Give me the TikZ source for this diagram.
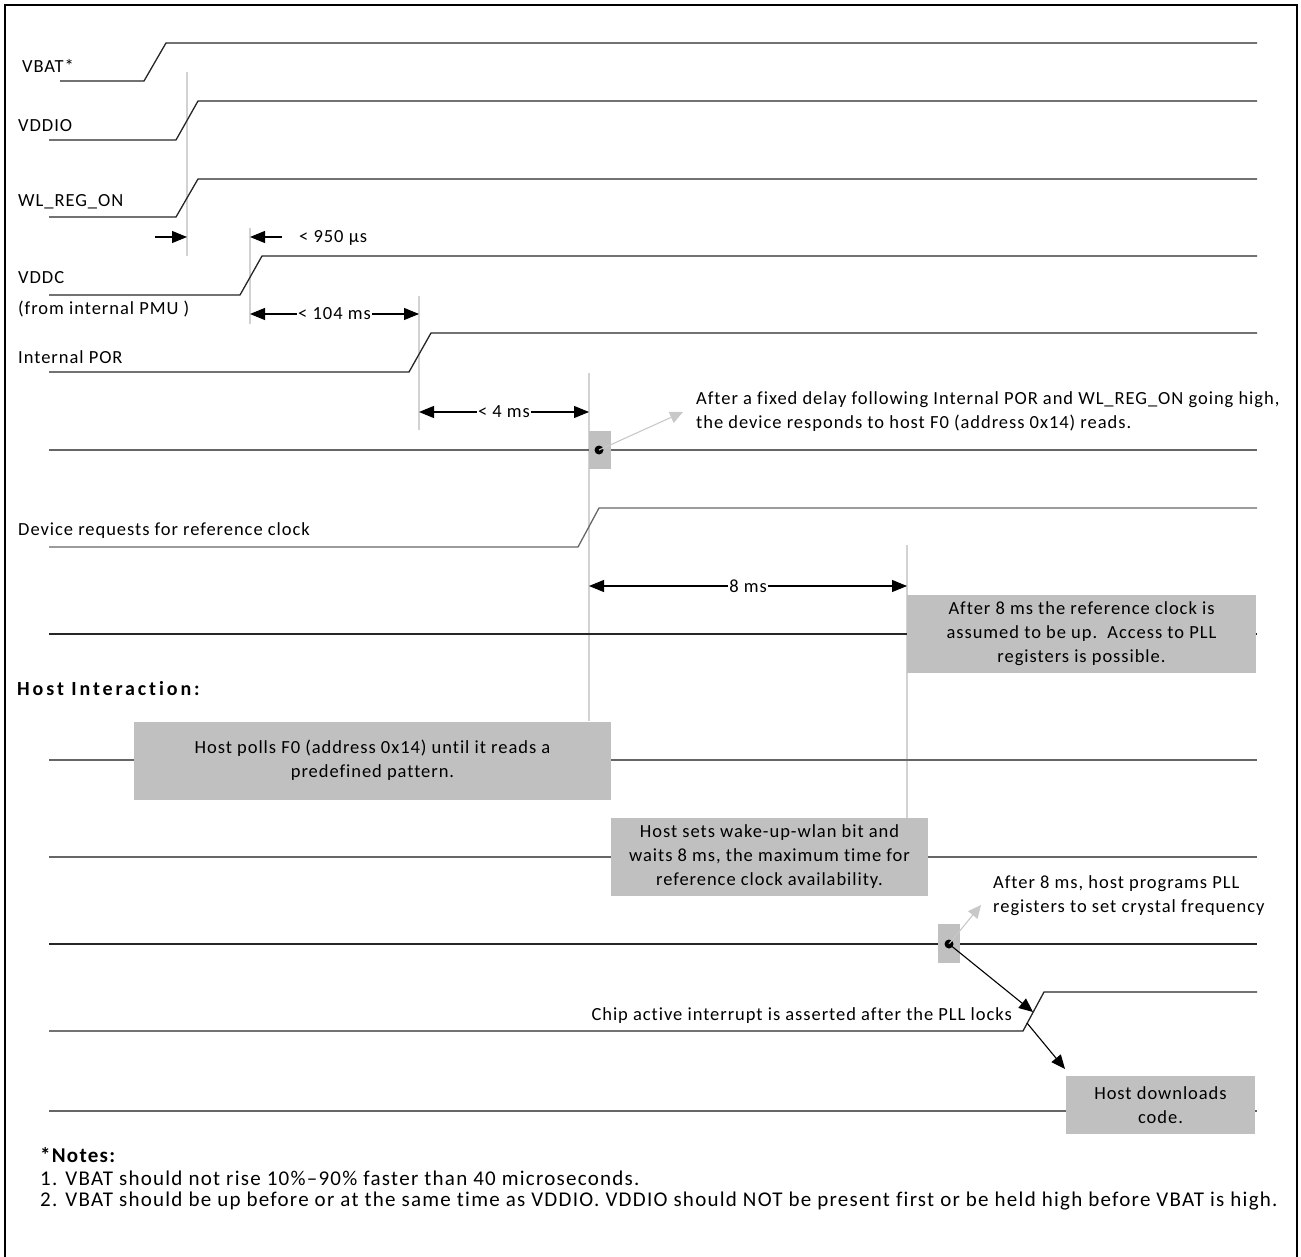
\documentclass[tikz,border=0pt]{standalone}
\usepackage{fontspec}
\setmainfont{Carlito}[Ligatures=CommonOff]
\newfontfamily\lblfont{Carlito}[LetterSpace=5.2, Ligatures=CommonOff]
\newfontfamily\headfont{Carlito}[LetterSpace=14.5, Ligatures=CommonOff]
\newfontfamily\notefont{Carlito}[LetterSpace=6, Ligatures=CommonOff]
\usetikzlibrary{arrows.meta}
\definecolor{boxgray}{RGB}{192,192,192}
\definecolor{guidegray}{RGB}{210,210,210}
\definecolor{callgray}{RGB}{200,200,200}
\newcommand{\txt}{\lblfont\fontsize{18.5}{24}\selectfont}
\newcommand{\headtxt}{\headfont\bfseries\fontsize{20}{24}\selectfont}
\newcommand{\notetxt}{\notefont\fontsize{21}{24}\selectfont}
\tikzset{
  sig/.style={line width=1.3pt, draw=black!85},
  flat/.style={line width=1.3pt, draw=black!60},
  guide/.style={line width=1.5pt, draw=guidegray},
  dimarrow/.style={line width=1.1pt, -{Triangle[length=15pt,width=12pt]}},
  dimboth/.style={line width=1.1pt, {Triangle[length=15pt,width=12pt]}-{Triangle[length=15pt,width=12pt]}},
  callout/.style={line width=1.1pt, draw=callgray, -{Triangle[length=13pt,width=12pt]}, callgray},
  blackarrow/.style={line width=1.1pt, -{Triangle[length=14pt,width=12pt]}},
  lbl/.style={inner sep=0pt, anchor=west, font=\txt},
  notelbl/.style={inner sep=0pt, anchor=west, font=\notetxt},
  graybox/.style={fill=boxgray, draw=none, inner sep=0pt, align=center, font=\txt},
  dimtext/.style={fill=white, inner sep=1pt, font=\txt},
}
\begin{document}
\begin{tikzpicture}[x=1pt,y=-1pt]
\useasboundingbox (0,0) rectangle (1301,1257);
% frame (open at bottom)
\draw[line width=2.2pt] (5,1257) -- (5,5) -- (1297,5) -- (1297,1257);

% guide lines
\draw[guide] (187,72) -- (187,256);
\draw[guide] (250,228) -- (250,324);
\draw[guide] (419,296) -- (419,430);
\draw[guide] (589,373) -- (589,721);
\draw[guide] (907,545) -- (907,818);

% signals
\draw[sig] (60,81) -- (144,81) -- (166,43) -- (1257,43);
\draw[sig] (49,140) -- (176,140) -- (198,101) -- (1257,101);
\draw[sig] (49,217) -- (176,217) -- (198,179) -- (1257,179);
\draw[sig] (49,295) -- (240,295) -- (262,256) -- (1257,256);
\draw[sig] (49,372) -- (409,372) -- (431,333) -- (1257,333);
\draw[flat] (49,450) -- (1257,450);
\draw[flat] (49,547) -- (578,547) -- (599,508) -- (1257,508);
\draw[sig] (49,634) -- (1257,634);
\draw[flat] (49,760) -- (1257,760);
\draw[flat] (49,857) -- (1257,857);
\draw[sig] (49,944) -- (1257,944);
\draw[sig] (49,1031) -- (1023,1031) -- (1044,992) -- (1257,992);
\draw[flat] (49,1111) -- (1257,1111);

% labels
\node[lbl] (lvbat) at (22,66) {VBAT*};
\node[lbl] (lvddio) at (18,126) {VDDIO};
\node[lbl] (lwl) at (18,202) {WL\_REG\_ON};
\node[lbl] (lvddc) at (18,278) {VDDC};
\node[lbl] (lpmu) at (18,309) {(from internal PMU )};
\node[lbl] (lpor) at (18,357) {Internal POR};
\node[lbl] (ldev) at (18,531) {Device requests for reference clock};
\node[lbl, font=\headtxt] (lhost) at (17,689) {Host Interaction:};

% timing dimensions
\coordinate (a1s) at (155,237);
\coordinate (a1e) at (187,237);
\draw[dimarrow] (a1s) -- (a1e);
\coordinate (a2s) at (282,237);
\coordinate (a2e) at (250,237);
\draw[dimarrow] (a2s) -- (a2e);
\node[lbl] (t950) at (299,238) {< 950 µs};

\coordinate (d1a) at (250,314);
\coordinate (d1b) at (419,314);
\draw[dimboth] (d1a) -- node[dimtext] (t104) {< 104 ms} (d1b);

\coordinate (d2a) at (419,412);
\coordinate (d2b) at (589,412);
\draw[dimboth] (d2a) -- node[dimtext] (t4) {< 4 ms} (d2b);

\coordinate (d3a) at (589,586);
\coordinate (d3b) at (907,586);
\draw[dimboth] (d3a) -- node[dimtext] (t8) {8 ms} (d3b);

% boxes
\node[graybox, minimum width=22pt, minimum height=38pt] (mk1) at (600,450) {};
\node[graybox, minimum width=22pt, minimum height=39pt] (mk2) at (949,943.5) {};
\node[graybox, minimum width=349pt, minimum height=78pt] (b1) at (1081.5,634)
  {After 8 ms the reference clock is\\assumed to be up.\ \ Access to PLL\\registers is possible.};
\node[graybox, minimum width=477pt, minimum height=78pt] (b2) at (372.5,760.5)
  {Host polls F0 (address 0x14) until it reads a\\predefined pattern.};
\node[graybox, minimum width=317pt, minimum height=78pt] (b3) at (769.5,857)
  {Host sets wake-up-wlan bit and\\waits 8 ms, the maximum time for\\reference clock availability.};
\node[graybox, minimum width=189pt, minimum height=58pt] (b4) at (1160.5,1105)
  {Host downloads\\code.};

% dots
\fill (599,450) circle (4.5pt) coordinate (dot1);
\fill (949,944) circle (4.5pt) coordinate (dot2);

% callouts
\coordinate (c1) at (683,412);
\draw[callout] (dot1) -- (c1);
\node[lbl] (txt1a) at (696,400) {After a fixed delay following Internal POR and WL\_REG\_ON going high,};
\node[lbl] (txt1b) at (696,423) {the device responds to host F0 (address 0x14) reads.};

\coordinate (c2) at (981,905);
\draw[callout] (dot2) -- (c2);
\node[lbl] (txt2a) at (993,884) {After 8 ms, host programs PLL};
\node[lbl] (txt2b) at (993,908) {registers to set crystal frequency};

% chip active arrows
\coordinate (r1) at (1033,1012);
\coordinate (r2) at (1027,1023);
\coordinate (r3) at (1065,1069);
\draw[blackarrow] (dot2) -- (r1);
\draw[blackarrow] (r2) -- (r3);
\node[inner sep=0pt, anchor=east, font=\txt] (tchip) at (1012,1016) {Chip active interrupt is asserted after the PLL locks};

% notes
\node[notelbl, font=\notetxt\bfseries] (nh) at (40,1155) {*Notes:};
\node[notelbl] (n1) at (40,1178) {1. VBAT should not rise 10\%–90\% faster than 40 microseconds.};
\node[notelbl] (n2) at (40,1201) {2. VBAT should be up before or at the same time as VDDIO. VDDIO should NOT be present first or be held high before VBAT is high.};
\end{tikzpicture}
\end{document}
